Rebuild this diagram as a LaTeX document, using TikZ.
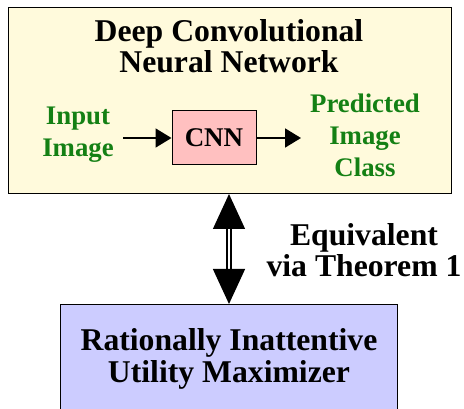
\documentclass[tikz,border=0pt]{standalone}
\usepackage{fontspec}
\setmainfont{Liberation Serif}
\usetikzlibrary{arrows.meta}
\definecolor{topfill}{RGB}{255,250,220}
\definecolor{cnnfill}{RGB}{255,192,192}
\definecolor{botfill}{RGB}{204,204,255}
\definecolor{grn}{RGB}{20,128,20}
\begin{document}
\begin{tikzpicture}[x=1pt,y=-1pt,
  bigtext/.style={font=\bfseries\fontsize{31.7}{31.5}\selectfont, align=center, anchor=base, inner sep=0pt},
  greentext/.style={font=\bfseries\fontsize{26.8}{32}\selectfont, align=center, text=grn, anchor=base, inner sep=0pt},
  flowarrow/.style={-{Triangle[length=16pt,width=19pt]}, line width=1.8pt},
  bigarrow/.style={{Triangle[length=35pt,width=32pt]}-{Triangle[length=35pt,width=32pt]}, double, double distance=2.5pt, line width=1.3pt}]
\useasboundingbox (0,0) rectangle (464,409);
\node[draw, line width=1pt, fill=topfill, minimum width=443pt, minimum height=186pt, anchor=north west] (top) at (8,7) {};
\node[bigtext] (title) at (229,73) {Deep Convolutional\\Neural Network};
\node[draw, line width=1pt, fill=cnnfill, minimum width=84pt, minimum height=54pt, font=\bfseries\fontsize{27}{28}\selectfont] (cnn) at (214,138) {CNN};
\node[greentext] (in) at (78,157) {Input\\Image};
\node[greentext] (out) at (365,177) {Predicted\\Image\\Class};
\coordinate (instart) at (123,138);
\coordinate (outend) at (301,138);
\draw[flowarrow] (instart) -- (cnn.west);
\draw[flowarrow] (cnn.east) -- (outend);
\node[draw, line width=1pt, fill=botfill, minimum width=337pt, minimum height=120pt, anchor=north west] (bot) at (60,304) {};
\node[bigtext] (bottext) at (229,382) {Rationally Inattentive\\Utility Maximizer};
\draw[bigarrow] (top.south -| 229,0) -- (bot.north -| 229,0);
\node[bigtext] (eq) at (364,277) {Equivalent\\via Theorem 1};
\end{tikzpicture}
\end{document}
